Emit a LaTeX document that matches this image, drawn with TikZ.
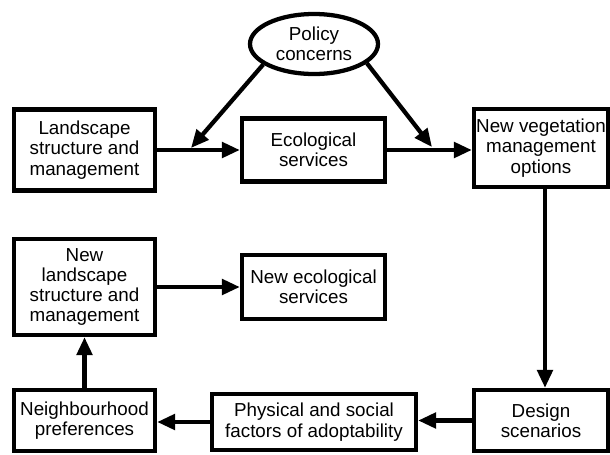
\documentclass[tikz,border=0pt]{standalone}
\usepackage{fontspec}
\setmainfont{Liberation Sans}
\usetikzlibrary{shapes.geometric,arrows.meta}
\begin{document}
\begin{tikzpicture}[x=0.75pt,y=-0.75pt,
  box/.style={draw,line width=3.2pt,rectangle,inner sep=0pt,align=center,
    font=\fontsize{14.1}{15.2}\selectfont},
  arr/.style={line width=3.2pt,-{Triangle[length=13.5pt,width=11.5pt]}}]
\useasboundingbox (0,0) rectangle (610,454);
\node[box,shape=ellipse,minimum width=96pt,minimum height=45pt] (pc) at (314,44) {Policy\\concerns};
\node[box,minimum width=105.75pt,minimum height=60.75pt] (ls) at (84.5,150) {Landscape\\structure and\\management};
\node[box,minimum width=107.25pt,minimum height=47.25pt] (ec) at (313.5,150) {Ecological\\services};
\node[box,minimum width=100.5pt,minimum height=58.5pt] (nv) at (541,148) {New vegetation\\management\\options};
\node[box,minimum width=105.75pt,minimum height=72pt] (nl) at (84.5,287) {New\\landscape\\structure and\\management};
\node[box,minimum width=107.25pt,minimum height=48pt] (ne) at (313.5,287) {New ecological\\services};
\node[box,minimum width=105.75pt,minimum height=45.75pt] (nh) at (84.5,420.5) {Neighbourhood\\preferences};
\node[box,minimum width=153pt,minimum height=42pt] (ph) at (314,422) {Physical and social\\factors of adoptability};
\node[box,minimum width=100.5pt,minimum height=45.75pt] (ds) at (541,420.5) {Design\\scenarios};
\coordinate (ml) at (191,148);
\coordinate (mr) at (432,147);
\coordinate (vx) at (545,0);
\draw[arr] (ls.east) -- (ec.west);
\draw[arr] (ec.east) -- (ec.east -| nv.west);
\draw[arr] (pc.202) -- (ml);
\draw[arr] (pc.340) -- (mr);
\draw[arr] (nv.south -| vx) -- (ds.north -| vx);
\draw[arr] (ds.west) -- (ds.west -| ph.east);
\draw[arr] (ph.west) -- (ph.west -| nh.east);
\draw[arr] (nh.north) -- (nl.south);
\draw[arr] (nl.east |- ne.west) -- (ne.west);
\end{tikzpicture}
\end{document}
